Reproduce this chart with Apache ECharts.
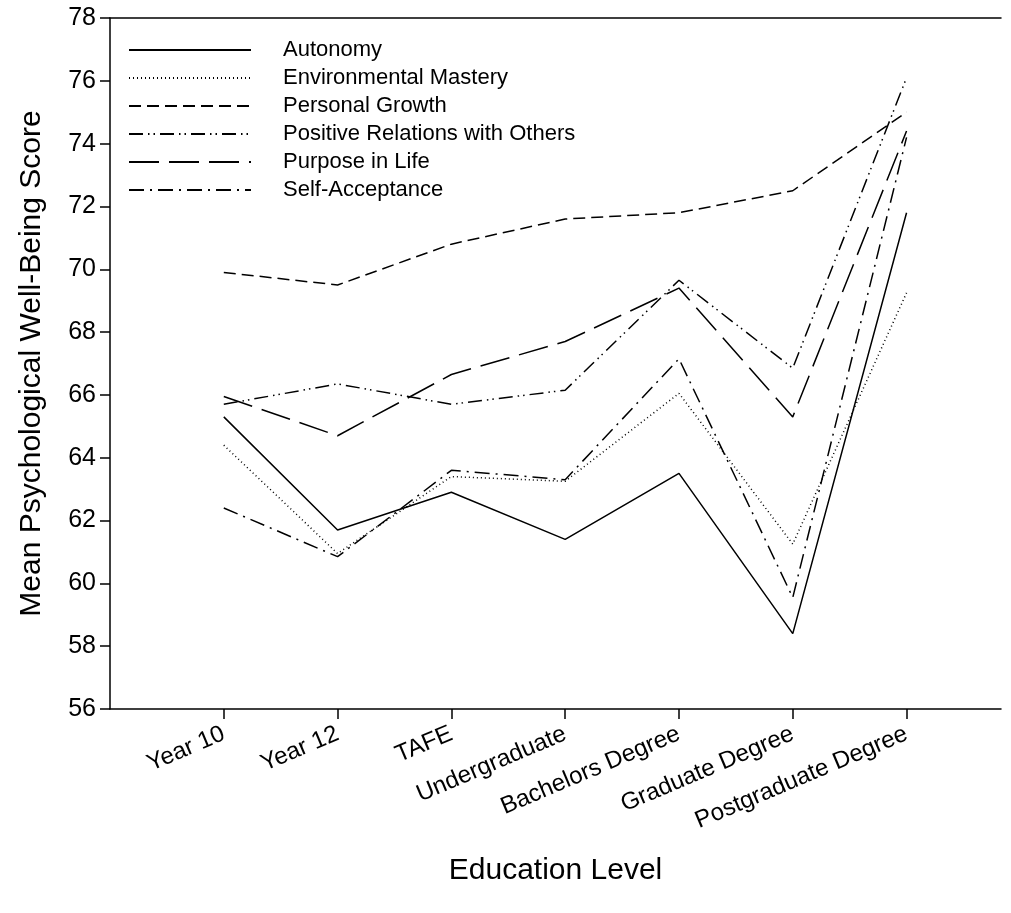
<!DOCTYPE html>
<html>
<head>
<meta charset="utf-8">
<script src="https://cdn.jsdelivr.net/npm/echarts@6/dist/echarts.min.js"></script>
<style>
  html, body { margin: 0; padding: 0; background: #fff; }
  #chart { width: 1011px; height: 913px; }
</style>
</head>
<body>
<div id="chart"></div>
<script>
// education levels along the x axis (positions 1..7)
var levels = ["Year 10", "Year 12", "TAFE", "Undergraduate", "Bachelors Degree", "Graduate Degree", "Postgraduate Degree"];

var autonomy = [65.3, 61.7, 62.9, 61.4, 63.5, 58.4, 71.8];
var environmentalMastery = [64.4, 60.95, 63.4, 63.25, 66.05, 61.25, 69.25];
var personalGrowth = [69.9, 69.5, 70.8, 71.6, 71.8, 72.5, 75.0];
var positiveRelations = [65.7, 66.35, 65.7, 66.15, 69.65, 66.85, 76.1];
var purposeInLife = [65.95, 64.7, 66.65, 67.7, 69.4, 65.3, 74.4];
var selfAcceptance = [62.4, 60.85, 63.6, 63.3, 67.15, 59.55, 74.2];

var yTicks = [56, 58, 60, 62, 64, 66, 68, 70, 72, 74, 76, 78];

function pts(arr) {
  return arr.map(function (v, i) { return [i + 1, v]; });
}

function mkSeries(name, arr, dash) {
  return {
    name: name,
    type: "line",
    data: pts(arr),
    symbol: "none",
    silent: true,
    lineStyle: { color: "#000", width: 1.5, type: dash },
    itemStyle: { color: "#000" },
  };
}

var chart = echarts.init(document.getElementById("chart"));
var font = "Liberation Sans, Arial, sans-serif";

chart.setOption({
  backgroundColor: "#fff",
  animation: false,
  grid: { left: 110, right: 10, top: 18, bottom: 204 },
  legend: {
    orient: "vertical",
    left: 128,
    top: 36,
    padding: 0,
    itemWidth: 122,
    itemHeight: 14,
    itemGap: 0,
    itemStyle: { opacity: 0 },
    textStyle: { fontFamily: font, fontSize: 22, lineHeight: 28, color: "#000", padding: [0, 0, 0, 27] },
    data: ["Autonomy", "Environmental Mastery", "Personal Growth", "Positive Relations with Others", "Purpose in Life", "Self-Acceptance"],
  },
  xAxis: [
    {
      type: "value",
      min: 0,
      max: 7.83,
      interval: 1,
      name: "Education Level",
      nameLocation: "middle",
      nameGap: 147,
      nameTextStyle: { fontFamily: font, fontSize: 30, color: "#000" },
      splitLine: { show: false },
      axisLine: { lineStyle: { color: "#000", width: 1.5 } },
      axisTick: { length: 10, lineStyle: { color: "#000", width: 1.5 }, customValues: [1, 2, 3, 4, 5, 6, 7] },
      axisLabel: {
        customValues: [1, 2, 3, 4, 5, 6, 7],
        rotate: 23,
        margin: 24,
        fontFamily: font,
        fontSize: 24,
        color: "#000",
        formatter: function (v) { return levels[Math.round(v) - 1] || ""; },
      },
    },
    {
      type: "value",
      position: "top",
      min: 0,
      max: 7.83,
      axisLine: { show: true, lineStyle: { color: "#000", width: 1.5 } },
      axisTick: { show: false },
      axisLabel: { show: false },
      splitLine: { show: false },
    },
  ],
  yAxis: {
    type: "value",
    min: yTicks[0],
    max: yTicks[yTicks.length - 1],
    interval: 2,
    name: "Mean Psychological Well-Being Score",
    nameLocation: "middle",
    nameGap: 63,
    nameTextStyle: { fontFamily: font, fontSize: 30, color: "#000" },
    splitLine: { show: false },
    axisLine: { show: true, lineStyle: { color: "#000", width: 1.5 } },
    axisTick: { show: true, length: 10, lineStyle: { color: "#000", width: 1.5 } },
    axisLabel: { fontFamily: font, fontSize: 25, color: "#000", margin: 14 },
  },
  series: [
    mkSeries("Autonomy", autonomy, "solid"),
    mkSeries("Environmental Mastery", environmentalMastery, [1, 3]),
    mkSeries("Personal Growth", personalGrowth, [12, 6]),
    mkSeries("Positive Relations with Others", positiveRelations, [14, 5, 1.5, 4, 1.5, 5]),
    mkSeries("Purpose in Life", purposeInLife, [30, 10]),
    mkSeries("Self-Acceptance", selfAcceptance, [15, 6, 2, 6]),
  ],
});
</script>
</body>
</html>
